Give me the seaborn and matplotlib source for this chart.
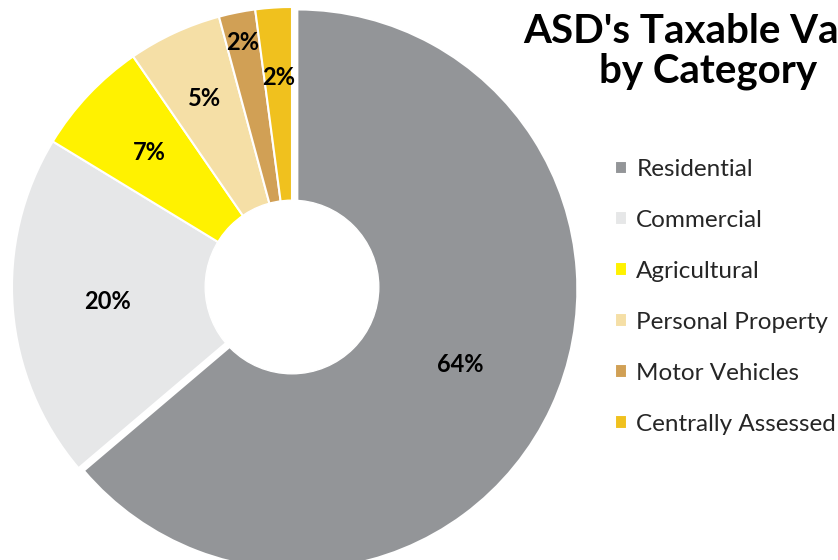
import numpy as np
import matplotlib
matplotlib.use("Agg")
import matplotlib.pyplot as plt
import seaborn as sns

# Taxable value share by category (percent)
categories = ["Residential", "Commercial", "Agricultural", "Personal Property",
              "Motor Vehicles", "Centrally Assessed"]
shares = [63.8, 19.9, 6.7, 5.4, 2.1, 2.1]
pct_labels = ["64%", "20%", "7%", "5%", "2%", "2%"]
colors = ["#939598", "#e6e7e8", "#fff200", "#f5dfa6", "#d1a055", "#f0c11e"]
label_radius = [0.64, 0.66, 0.70, 0.74, 0.89, 0.75]
explode = [0.021, 0, 0, 0, 0, 0]

sns.set_theme(style="white")
plt.rcParams["font.family"] = ["Lato", "DejaVu Sans"]

fig = plt.figure(figsize=(8.38, 5.60), dpi=100)
ax = fig.add_axes([0, 0, 1, 1])

wedges, _ = ax.pie(shares, colors=colors, startangle=90, counterclock=False,
                   explode=explode, radius=1.0,
                   wedgeprops=dict(edgecolor="white", linewidth=1.5))

# donut hole, centred on the unexploded pie
ax.add_patch(plt.Circle((0, 0), 0.31, color="white", zorder=3))

for w, lab, r in zip(wedges, pct_labels, label_radius):
    mid = np.deg2rad((w.theta1 + w.theta2) / 2)
    cx, cy = w.center
    ax.text(cx + r * np.cos(mid), cy + r * np.sin(mid), lab,
            ha="center", va="center", fontsize=17, fontweight="bold",
            color="black", zorder=4)

ax.set_xlim(-292 / 280, (838 - 292) / 280)
ax.set_ylim((287 - 560) / 280, 287 / 280)
ax.set_aspect("equal")
ax.axis("off")

fig.text(0.845, 0.977, "ASD's Taxable Value\nby Category", ha="center", va="top",
         multialignment="center", fontsize=29, fontweight="bold",
         linespacing=1.1, color="black")

fig.legend(wedges, categories, loc="upper left", bbox_to_anchor=(0.708, 0.755),
           frameon=False, fontsize=17.5, handlelength=0.5, handleheight=0.5,
           handletextpad=0.37, labelspacing=1.23, labelcolor="#262626")

fig.savefig("out.png", dpi=100)
